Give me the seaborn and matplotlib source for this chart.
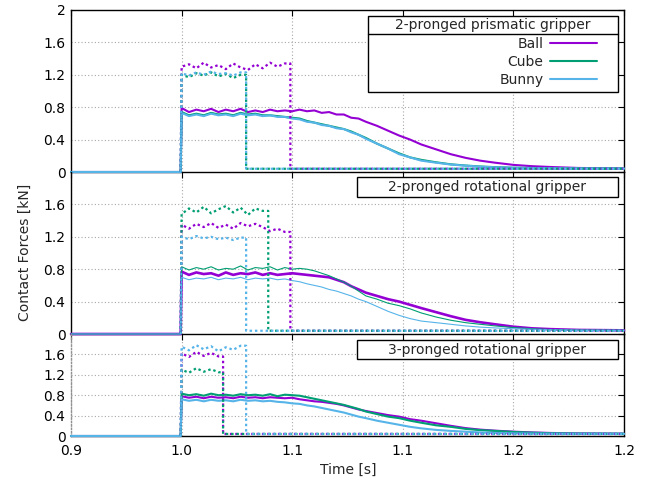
import matplotlib
matplotlib.use("Agg")
import matplotlib.pyplot as plt
import seaborn as sns
from matplotlib.patches import Rectangle
from matplotlib.lines import Line2D
from matplotlib.ticker import FixedLocator, FixedFormatter

# ---------------------------------------------------------------- data
OBJECTS = ["Ball", "Cube", "Bunny"]
COLORS = {"Ball": "#9400D3", "Cube": "#009E73", "Bunny": "#56B4E9"}
PANEL_TITLES = ["2-pronged prismatic gripper",
                "2-pronged rotational gripper",
                "3-pronged rotational gripper"]

XTICKS = [0.94, 1.00, 1.06, 1.12, 1.18, 1.24]
XTICK_LABELS = ["0.9", "1.0", "1.1", "1.1", "1.2", "1.2"]
YTICKS_TOP = [0, 0.4, 0.8, 1.2, 1.6, 2]
YTICK_LABELS_TOP = ["0", "0.4", "0.8", "1.2", "1.6", "2"]
YTICKS = [0, 0.4, 0.8, 1.2, 1.6]
YTICK_LABELS = ["0", "0.4", "0.8", "1.2", "1.6"]

# contact force time base [s]
T_SOLID = [0.940, 0.9995, 1.000, 1.004, 1.008, 1.012, 1.016, 1.020, 1.024, 1.028,
           1.032, 1.036, 1.040, 1.044, 1.048, 1.052, 1.056, 1.060, 1.064, 1.068,
           1.072, 1.076, 1.080, 1.084, 1.088, 1.092, 1.096, 1.100, 1.106, 1.112,
           1.118, 1.124, 1.130, 1.138, 1.146, 1.154, 1.162, 1.170, 1.180, 1.190,
           1.200, 1.215, 1.240]

# contact forces [kN], 2-pronged prismatic gripper
P1_BALL = [0.00, 0.00, 0.79, 0.74, 0.77, 0.75, 0.78, 0.74, 0.77, 0.75,
           0.78, 0.74, 0.76, 0.74, 0.77, 0.75, 0.76, 0.75, 0.77, 0.75,
           0.76, 0.73, 0.74, 0.71, 0.71, 0.67, 0.66, 0.62, 0.57, 0.51,
           0.45, 0.40, 0.34, 0.28, 0.22, 0.175, 0.14, 0.115, 0.088, 0.072,
           0.062, 0.050, 0.043]
P1_CUBE = [0.00, 0.00, 0.74, 0.70, 0.72, 0.70, 0.73, 0.71, 0.72, 0.70,
           0.73, 0.71, 0.72, 0.70, 0.70, 0.69, 0.68, 0.67, 0.66, 0.63,
           0.61, 0.59, 0.57, 0.55, 0.53, 0.50, 0.46, 0.42, 0.35, 0.29,
           0.23, 0.18, 0.15, 0.12, 0.095, 0.080, 0.068, 0.060, 0.053, 0.050,
           0.047, 0.045, 0.043]
P1_BUNNY = [0.00, 0.00, 0.73, 0.69, 0.71, 0.69, 0.72, 0.70, 0.71, 0.69,
            0.72, 0.70, 0.71, 0.69, 0.70, 0.68, 0.68, 0.66, 0.65, 0.62,
            0.61, 0.58, 0.57, 0.54, 0.53, 0.49, 0.46, 0.41, 0.35, 0.29,
            0.22, 0.18, 0.14, 0.115, 0.092, 0.078, 0.066, 0.058, 0.052, 0.049,
            0.046, 0.044, 0.042]

# contact forces [kN], 2-pronged rotational gripper
P2_BALL = [0.00, 0.00, 0.77, 0.73, 0.76, 0.74, 0.75, 0.72, 0.76, 0.73,
           0.75, 0.74, 0.76, 0.73, 0.75, 0.73, 0.74, 0.75, 0.74, 0.73,
           0.72, 0.71, 0.70, 0.67, 0.64, 0.59, 0.55, 0.51, 0.47, 0.43,
           0.40, 0.36, 0.32, 0.27, 0.22, 0.175, 0.145, 0.12, 0.09, 0.07,
           0.06, 0.05, 0.045]
P2_CUBE = [0.00, 0.00, 0.83, 0.79, 0.82, 0.80, 0.83, 0.79, 0.81, 0.80,
           0.84, 0.79, 0.82, 0.81, 0.83, 0.79, 0.82, 0.80, 0.81, 0.80,
           0.78, 0.75, 0.72, 0.68, 0.64, 0.59, 0.53, 0.47, 0.43, 0.38,
           0.35, 0.31, 0.26, 0.21, 0.17, 0.14, 0.12, 0.10, 0.08, 0.065,
           0.055, 0.048, 0.045]
P2_BUNNY = [0.00, 0.00, 0.70, 0.67, 0.69, 0.68, 0.70, 0.67, 0.69, 0.68,
            0.70, 0.67, 0.69, 0.68, 0.69, 0.67, 0.68, 0.66, 0.645, 0.62,
            0.60, 0.58, 0.55, 0.53, 0.50, 0.47, 0.43, 0.40, 0.34, 0.28,
            0.23, 0.19, 0.16, 0.14, 0.12, 0.10, 0.085, 0.075, 0.065, 0.058,
            0.052, 0.047, 0.045]

# contact forces [kN], 3-pronged rotational gripper
P3_BALL = [0.00, 0.00, 0.78, 0.75, 0.77, 0.74, 0.77, 0.75, 0.76, 0.74,
           0.77, 0.75, 0.76, 0.74, 0.76, 0.75, 0.74, 0.75, 0.72, 0.70,
           0.68, 0.67, 0.65, 0.63, 0.60, 0.56, 0.52, 0.49, 0.45, 0.41,
           0.38, 0.33, 0.30, 0.25, 0.20, 0.155, 0.125, 0.105, 0.085, 0.07,
           0.06, 0.05, 0.045]
P3_CUBE = [0.00, 0.00, 0.83, 0.80, 0.82, 0.79, 0.83, 0.80, 0.81, 0.79,
           0.82, 0.80, 0.81, 0.79, 0.82, 0.78, 0.81, 0.80, 0.79, 0.76,
           0.73, 0.70, 0.67, 0.64, 0.61, 0.57, 0.53, 0.48, 0.43, 0.38,
           0.35, 0.30, 0.26, 0.21, 0.18, 0.14, 0.115, 0.10, 0.08, 0.065,
           0.055, 0.048, 0.045]
P3_BUNNY = [0.00, 0.00, 0.72, 0.69, 0.71, 0.68, 0.71, 0.69, 0.70, 0.68,
            0.71, 0.69, 0.70, 0.68, 0.69, 0.67, 0.66, 0.64, 0.63, 0.60,
            0.58, 0.55, 0.52, 0.49, 0.46, 0.42, 0.38, 0.35, 0.30, 0.26,
            0.22, 0.18, 0.15, 0.12, 0.10, 0.085, 0.07, 0.06, 0.052, 0.048,
            0.045, 0.043, 0.042]

# grasp forces [kN] while holding (dotted), sampled on T_HOLD
T_HOLD = [1.000, 1.004, 1.008, 1.012, 1.016, 1.020, 1.024, 1.028, 1.032,
          1.036, 1.040, 1.044, 1.048, 1.052, 1.056]
T_START = 0.9995
T_END = 1.240

P1_BALL_HOLD = [1.30, 1.33, 1.28, 1.35, 1.29, 1.32, 1.27, 1.34, 1.29,
                1.26, 1.33, 1.28, 1.35, 1.30, 1.34]
P1_CUBE_HOLD = [1.20, 1.17, 1.22, 1.19, 1.23, 1.18, 1.21, 1.16, 1.20]
P1_BUNNY_HOLD = [1.22, 1.19, 1.23, 1.20, 1.24, 1.21, 1.22, 1.19, 1.23]

P2_BALL_HOLD = [1.35, 1.30, 1.36, 1.32, 1.37, 1.31, 1.35, 1.30, 1.37,
                1.33, 1.36, 1.32, 1.27, 1.30, 1.26]
P2_CUBE_HOLD = [1.48, 1.55, 1.50, 1.57, 1.49, 1.54, 1.58, 1.50, 1.56,
                1.47, 1.55, 1.52]
P2_BUNNY_HOLD = [1.20, 1.17, 1.21, 1.18, 1.20, 1.17, 1.19, 1.16, 1.19]

P3_BALL_HOLD = [1.62, 1.55, 1.65, 1.57, 1.63, 1.56]
P3_CUBE_HOLD = [1.30, 1.24, 1.33, 1.26, 1.31, 1.25]
P3_BUNNY_HOLD = [1.75, 1.68, 1.78, 1.70, 1.76, 1.66, 1.74, 1.69, 1.77]

# release instants [s] and residual force after release [kN]
P1_RELEASE = [1.059, 1.035, 1.035]
P2_RELEASE = [1.059, 1.047, 1.035]
P3_RELEASE = [1.0225, 1.0225, 1.035]
RESIDUAL = [0.04, 0.04, 0.04]

PANELS = [
    dict(contact=[P1_BALL, P1_CUBE, P1_BUNNY],
         hold=[P1_BALL_HOLD, P1_CUBE_HOLD, P1_BUNNY_HOLD],
         release=P1_RELEASE, widths=[1.5, 1.5, 1.5]),
    dict(contact=[P2_BALL, P2_CUBE, P2_BUNNY],
         hold=[P2_BALL_HOLD, P2_CUBE_HOLD, P2_BUNNY_HOLD],
         release=P2_RELEASE, widths=[1.9, 0.8, 0.8]),
    dict(contact=[P3_BALL, P3_CUBE, P3_BUNNY],
         hold=[P3_BALL_HOLD, P3_CUBE_HOLD, P3_BUNNY_HOLD],
         release=P3_RELEASE, widths=[1.5, 1.5, 1.5]),
]

# ---------------------------------------------------------------- style
sns.set_theme(style="white")
plt.rcParams["font.family"] = ["DejaVu Sans"]
plt.rcParams["font.size"] = 10

W, H = 654, 482
fig = plt.figure(figsize=(W / 100, H / 100), dpi=100)

LEFT, RIGHT = 71, 624
panel_px = [(10, 172), (172, 334), (334, 436)]   # top, bottom in pixels
axes = []
for top, bottom in panel_px:
    ax = fig.add_axes([LEFT / W, (H - bottom) / H, (RIGHT - LEFT) / W,
                       (bottom - top) / H])
    ax.set_facecolor("none")
    axes.append(ax)

DOT = (0, (1.1, 1.3))

for i, (ax, panel) in enumerate(zip(axes, PANELS)):
    ax.set_axisbelow(True)
    ax.grid(True, color="#a8a8a8", linestyle=(0, (1, 2)), linewidth=0.8)

    # contact forces (solid)
    for obj, vals, lw in zip(OBJECTS, panel["contact"], panel["widths"]):
        sns.lineplot(x=T_SOLID, y=vals, ax=ax, color=COLORS[obj], lw=lw,
                     estimator=None, sort=False, clip_on=False, zorder=3)

    # grasp forces (dotted): hold plateau, release drop, residual
    for obj, vals, rel, res in zip(OBJECTS, panel["hold"], panel["release"], RESIDUAL):
        t = [T_START] + T_HOLD[:len(vals)] + [rel, rel, T_END]
        v = [0.0] + vals + [vals[-1], res, res]
        sns.lineplot(x=t, y=v, ax=ax, color=COLORS[obj], lw=1.6,
                     linestyle=DOT, estimator=None, sort=False, zorder=3)

    ax.set_xlim(XTICKS[0], XTICKS[-1])
    ax.set_ylim(0, 2)
    ax.xaxis.set_major_locator(FixedLocator(XTICKS))
    if i == 0:
        ax.yaxis.set_major_locator(FixedLocator(YTICKS_TOP))
        ax.yaxis.set_major_formatter(FixedFormatter(YTICK_LABELS_TOP))
    else:
        ax.yaxis.set_major_locator(FixedLocator(YTICKS))
        ax.yaxis.set_major_formatter(FixedFormatter(YTICK_LABELS))
    if i == 2:
        ax.xaxis.set_major_formatter(FixedFormatter(XTICK_LABELS))
    else:
        ax.set_xticklabels([])
    ax.tick_params(direction="in", length=4, width=0.8, top=True, right=True,
                   colors="black", labelsize=10, labelcolor="black")
    ax.tick_params(axis="y", pad=4)
    ax.tick_params(axis="x", pad=6)
    ax.set_xlabel("")
    ax.set_ylabel("")
    for side, sp in ax.spines.items():
        sp.set_color("black")
        sp.set_linewidth(1.0)
        sp.set_visible(True)
        sp.set_zorder(1.5)
    if i > 0:
        # the panel above already draws the shared boundary
        ax.spines["top"].set_visible(False)
    if i == 2:
        ax.spines["left"].set_color("#909090")
        ax.spines["left"].set_linestyle((0, (1, 1.5)))

# ---------------------------------------------------------------- legend / titles
ax = axes[0]
x0, x1, yb, yt, ysep = 0.537, 0.989, 0.494, 0.963, 0.852
ax.add_patch(Rectangle((x0, yb), x1 - x0, yt - yb, transform=ax.transAxes,
                       facecolor="white", edgecolor="black", lw=1.0, zorder=5))
ax.add_line(Line2D([x0, x1], [ysep, ysep], transform=ax.transAxes,
                   color="black", lw=1.0, zorder=6))
ax.text((x0 + x1) / 2, (ysep + yt) / 2, PANEL_TITLES[0], transform=ax.transAxes,
        ha="center", va="center", fontsize=10, zorder=7)
handles = [Line2D([], [], color=COLORS[o], lw=1.5) for o in OBJECTS]
leg = ax.legend(handles, OBJECTS, loc="upper right", bbox_to_anchor=(0.951, 0.835),
                bbox_transform=ax.transAxes, frameon=False, markerfirst=False,
                handlelength=3.4, handletextpad=0.45, labelspacing=0.3,
                borderpad=0, borderaxespad=0, fontsize=10)
leg.set_zorder(8)

for ax, title, (yb, yt) in zip(axes[1:], PANEL_TITLES[1:],
                               [(0.846, 0.969), (0.755, 0.941)]):
    x0, x1 = 0.517, 0.989
    ax.add_patch(Rectangle((x0, yb), x1 - x0, yt - yb, transform=ax.transAxes,
                           facecolor="white", edgecolor="black", lw=1.0, zorder=5))
    ax.text((x0 + x1) / 2, (yb + yt) / 2, title, transform=ax.transAxes,
            ha="center", va="center", fontsize=10, zorder=7)

fig.text(0.038, 0.477, "Contact Forces [kN]", rotation=90, ha="center",
         va="center", fontsize=10)
fig.text(0.533, 0.025, "Time [s]", ha="center", va="center", fontsize=10)

fig.savefig("out.png", dpi=100)
